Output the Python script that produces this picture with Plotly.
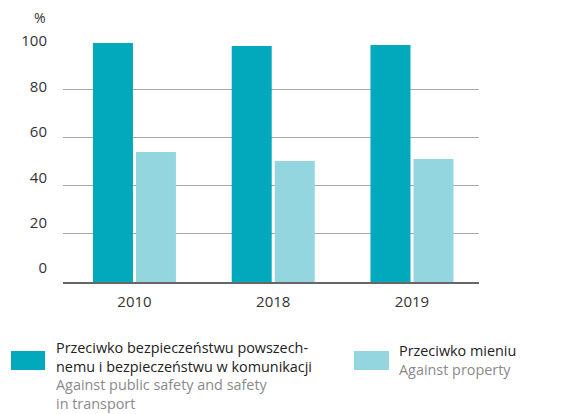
import plotly.graph_objects as go

years = ["2010", "2018", "2019"]
public_safety = [99.2, 97.9, 98.3]
property_crimes = [53.9, 50.2, 51.0]
y_ticks = [0, 20, 40, 60, 80, 100]

DARK = "#02A8BB"
LIGHT = "#94D6DF"
FONT = "Open Sans"

fig = go.Figure()
fig.add_trace(go.Bar(x=years, y=public_safety, marker=dict(color=DARK, line_width=0),
                     name="Przeciwko bezpieczeństwu powszechnemu", showlegend=False))
fig.add_trace(go.Bar(x=years, y=property_crimes, marker=dict(color=LIGHT, line_width=0),
                     name="Przeciwko mieniu", showlegend=False))
# invisible trace on label axis
fig.add_trace(go.Scatter(x=years, y=[None]*3, yaxis="y2", showlegend=False, hoverinfo="skip"))

W, H = 562, 414
L, R, T, B = 63, 479, 41, 282

def px(x):
    return (x - L) / (R - L)

def py(y):
    return (B - y) / (B - T)

fig.update_layout(
    width=W, height=H,
    margin=dict(l=L, r=W - R, t=T, b=H - B),
    paper_bgcolor="white", plot_bgcolor="white",
    barmode="group", bargap=0.38, bargroupgap=0.07,
    font=dict(family=FONT, size=15, color="#333333"),
    xaxis=dict(type="category", range=[-0.515, 2.483], showgrid=False,
               showline=True, linecolor="#666666", linewidth=2,
               ticks="outside", ticklen=5, tickcolor="rgba(0,0,0,0)",
               tickfont=dict(size=15, color="#333333")),
    yaxis=dict(range=[0, 100], tickvals=y_ticks, showticklabels=False,
               showgrid=True, gridcolor="#A8A8A8", gridwidth=1.3,
               zeroline=False, showline=False),
    yaxis2=dict(overlaying="y", side="left", range=[-6.16, 100.1], tickvals=y_ticks,
                showgrid=False, zeroline=False, showline=False,
                ticks="outside", ticklen=12, tickcolor="rgba(0,0,0,0)",
                tickfont=dict(size=15, color="#333333")),
)

fig.add_annotation(text="%", x=px(40), y=py(17.5), xref="paper", yref="paper",
                   xanchor="center", yanchor="middle",
                   showarrow=False, font=dict(size=14, color="#333333"))

# legend
fig.add_shape(type="rect", xref="paper", yref="paper",
              x0=px(11), x1=px(45), y0=py(351), y1=py(370),
              fillcolor=DARK, line_width=0)
fig.add_shape(type="rect", xref="paper", yref="paper",
              x0=px(354), x1=px(389), y0=py(351), y1=py(370),
              fillcolor=LIGHT, line_width=0)

BLACK, GREY = "#222222", "#8A8A8A"
def span(t, c):
    return f'<span style="color:{c}">{t}</span>'

leg1 = "<br>".join([span("Przeciwko bezpieczeństwu powszech-", BLACK),
                    span("nemu i bezpieczeństwu w komunikacji", BLACK),
                    span("Against public safety and safety", GREY),
                    span("in transport", GREY)])
leg2 = "<br>".join([span("Przeciwko mieniu", BLACK),
                    span("Against property", GREY)])
fig.add_annotation(text=leg1, x=px(55), y=py(375), xref="paper", yref="paper",
                   xanchor="left", yanchor="middle", align="left", showarrow=False,
                   borderpad=0, font=dict(size=14.4, family=FONT))
fig.add_annotation(text=leg2, x=px(398), y=py(359.5), xref="paper", yref="paper",
                   xanchor="left", yanchor="middle", align="left", showarrow=False,
                   borderpad=0, font=dict(size=14.4, family=FONT))

fig.write_html("out.html")
